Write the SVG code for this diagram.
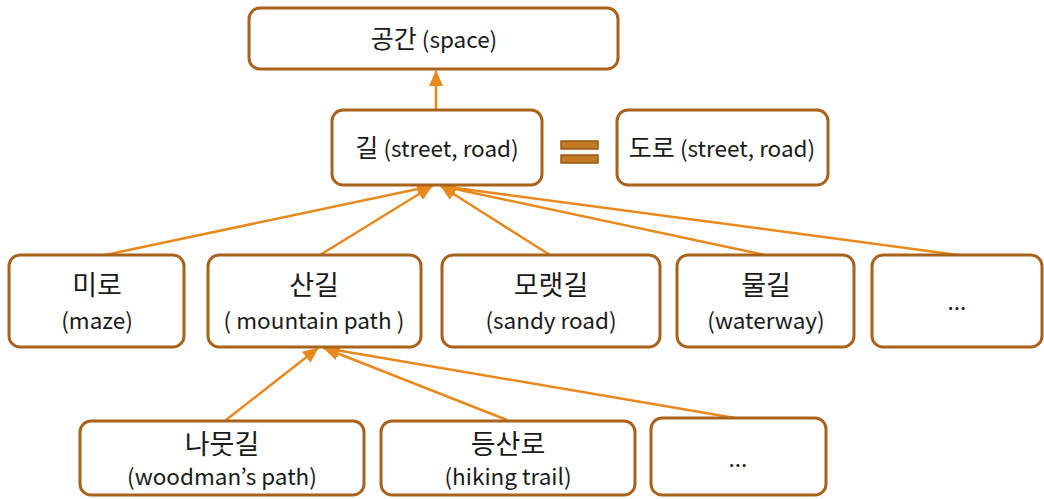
<svg xmlns="http://www.w3.org/2000/svg" width="1044" height="499" viewBox="0 0 1044 499">
<defs>
<style>
.box{fill:#fff;stroke:#A8621C;stroke-width:3}
.t{font-family:"Noto Sans CJK KR","Noto Sans",sans-serif;font-size:22.5px;fill:#1a1a1a;text-anchor:middle}
.k{font-size:25px}
.kl{font-size:27px}
.c{stroke:#E8891E;stroke-width:2.5;fill:none}
</style>
<marker id="ah" markerWidth="16" markerHeight="14" refX="15" refY="7" orient="auto" markerUnits="userSpaceOnUse">
<path d="M0,0 L16,7 L0,14 Z" fill="#E8891E"/>
</marker>
</defs>
<rect width="1044" height="499" fill="#fff"/>
<g id="connectors">
<line class="c" x1="436" y1="110" x2="436" y2="71" marker-end="url(#ah)"/>
<line class="c" x1="105" y1="255" x2="432" y2="186" marker-end="url(#ah)"/>
<line class="c" x1="320" y1="255" x2="432" y2="186" marker-end="url(#ah)"/>
<line class="c" x1="550" y1="255" x2="441" y2="186" marker-end="url(#ah)"/>
<line class="c" x1="765" y1="255" x2="441" y2="186" marker-end="url(#ah)"/>
<line class="c" x1="958" y1="255" x2="441" y2="186" marker-end="url(#ah)"/>
<line class="c" x1="226" y1="420" x2="318" y2="348" marker-end="url(#ah)"/>
<line class="c" x1="507" y1="420" x2="324" y2="348" marker-end="url(#ah)"/>
<line class="c" x1="735" y1="418" x2="324" y2="348" marker-end="url(#ah)"/>
</g>
<g id="n-space"><rect class="box" x="249" y="8" width="369" height="61" rx="11"/><text class="t" x="434" y="48"><tspan class="k">공간</tspan> (space)</text></g>
<g id="n-gil"><rect class="box" x="332" y="110" width="210" height="75" rx="11"/><text class="t" x="437" y="157"><tspan class="k">길</tspan> (street, road)</text></g>
<g id="equals"><rect x="561" y="141" width="37" height="8" fill="#C27A22" stroke="#9A5A12" stroke-width="1.5"/><rect x="561" y="155" width="37" height="8" fill="#C27A22" stroke="#9A5A12" stroke-width="1.5"/></g>
<g id="n-doro"><rect class="box" x="617" y="110" width="211" height="75" rx="11"/><text class="t" x="722" y="157"><tspan class="k">도로</tspan> (street, road)</text></g>
<g id="n-miro"><rect class="box" x="9" y="255" width="175" height="92" rx="11"/><text class="t kl" x="97" y="295">미로</text><text class="t" x="97" y="329">(maze)</text></g>
<g id="n-sangil"><rect class="box" x="208" y="255" width="213" height="92" rx="11"/><text class="t kl" x="314" y="295">산길</text><text class="t" x="314" y="329">( mountain path )</text></g>
<g id="n-moraet"><rect class="box" x="442" y="255" width="218" height="92" rx="11"/><text class="t kl" x="551" y="295">모랫길</text><text class="t" x="551" y="329">(sandy road)</text></g>
<g id="n-mulgil"><rect class="box" x="677" y="255" width="177" height="92" rx="11"/><text class="t kl" x="766" y="295">물길</text><text class="t" x="766" y="329">(waterway)</text></g>
<g id="n-etc1"><rect class="box" x="872" y="255" width="170" height="92" rx="11"/><text class="t" x="957" y="310">...</text></g>
<g id="n-namut"><rect class="box" x="80" y="421" width="284" height="74" rx="11"/><text class="t kl" x="222" y="454">나뭇길</text><text class="t" x="222" y="485">(woodman’s path)</text></g>
<g id="n-deungsan"><rect class="box" x="381" y="421" width="254" height="74" rx="11"/><text class="t kl" x="508" y="454">등산로</text><text class="t" x="508" y="485">(hiking trail)</text></g>
<g id="n-etc2"><rect class="box" x="651" y="418" width="175" height="77" rx="11"/><text class="t" x="738" y="467">...</text></g>
</svg>
